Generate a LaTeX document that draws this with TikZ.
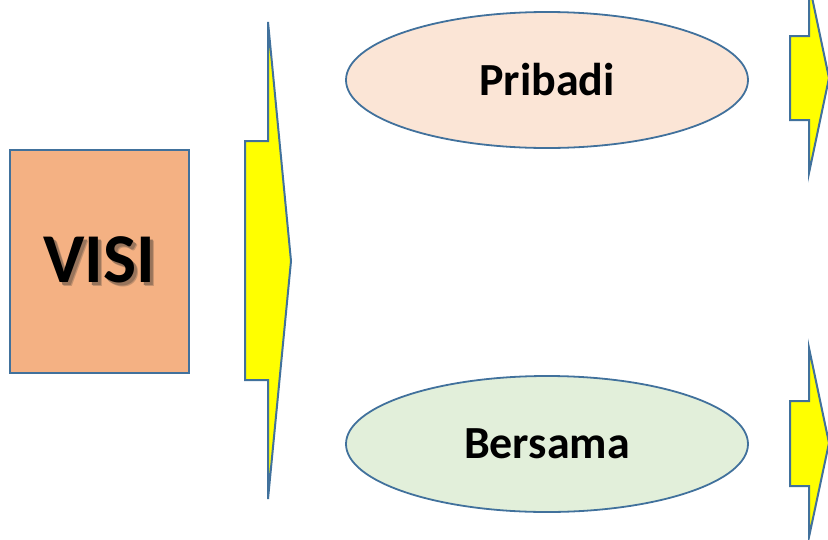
\documentclass[tikz,border=0pt]{standalone}
\usepackage{fontspec}
\setmainfont{Carlito}
\usetikzlibrary{shapes.geometric}
\definecolor{edgeblue}{HTML}{41719C}
\definecolor{visifill}{HTML}{F4B183}
\definecolor{pinkfill}{HTML}{FBE5D6}
\definecolor{greenfill}{HTML}{E2EFDA}
\definecolor{arrowyellow}{HTML}{FFFF00}
\definecolor{shadowgray}{HTML}{7A604E}
% title text with a soft drop shadow, set as one box
\newcommand{\shadowtitle}[1]{%
  \makebox[0pt][l]{\hspace{4pt}\raisebox{-4pt}{\color{shadowgray!40!visifill}#1}}%
  \makebox[0pt][l]{\hspace{3pt}\raisebox{-3pt}{\color{shadowgray!75!visifill}#1}}%
  #1}
\tikzset{
  box/.style={draw=edgeblue, line width=1.8pt, rectangle, inner sep=0pt},
  oval/.style={draw=edgeblue, line width=1.8pt, ellipse, inner sep=0pt,
    minimum width=402pt, minimum height=136pt, font=\fontsize{46}{50}\selectfont\bfseries},
  fatarrow/.style={draw=edgeblue, fill=arrowyellow, line width=2pt, line join=miter},
}
\begin{document}
\begin{tikzpicture}[x=1pt, y=-1pt]
\useasboundingbox (0,0) rectangle (828,539);
\begin{scope}
\clip (0,0) rectangle (828,539);

% left block with its title
\node[box, fill=visifill, minimum width=179pt, minimum height=223pt,
  font=\fontsize{70}{74}\selectfont\bfseries] (visi) at (99.5,261.5) {\shadowtitle{VISI}};

% large arrow
\draw[fatarrow] (245,141) -- (268,141) -- (268,22) -- (291,261) -- (268,499)
  -- (268,380) -- (245,380) -- cycle;

% ovals
\node[oval, fill=pinkfill] (pribadi) at (547,80) {Pribadi};
\node[oval, fill=greenfill] (bersama) at (547,444) {Bersama};

% small arrows at the right edge
\draw[fatarrow] (790,36) -- (809,36) -- (809,-17) -- (829,78) -- (809,173)
  -- (809,120) -- (790,120) -- cycle;
\draw[fatarrow] (790,401) -- (809,401) -- (809,348) -- (829,443) -- (809,537)
  -- (809,486) -- (790,486) -- cycle;
\end{scope}
\end{tikzpicture}
\end{document}
